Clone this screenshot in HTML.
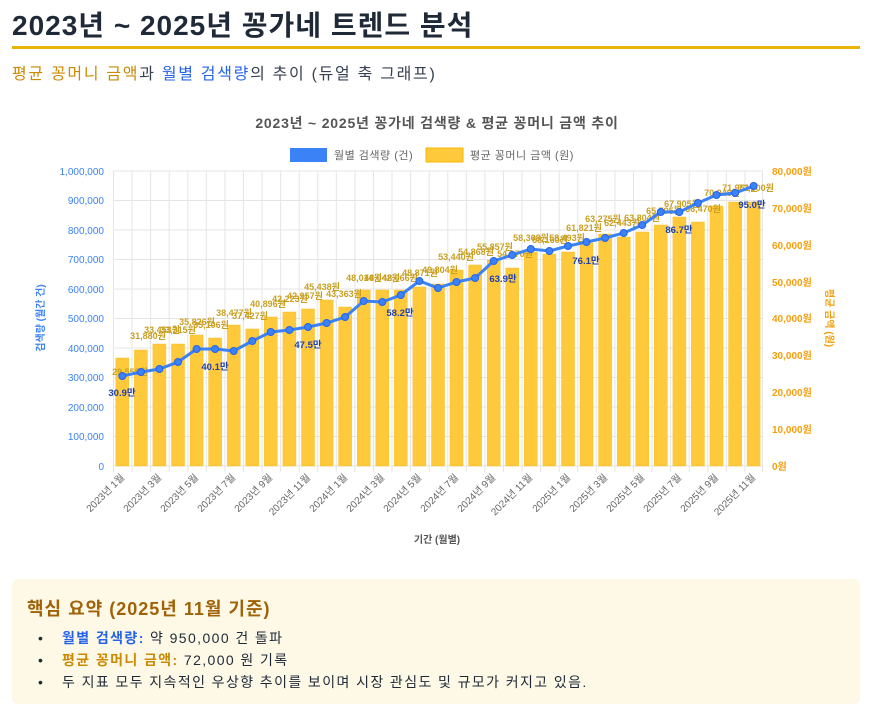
<!DOCTYPE html>
<html><head><meta charset="utf-8"><style>
body{margin:0;width:874px;height:713px;background:#fff;font-family:"Liberation Sans","Noto Sans CJK KR",sans-serif;position:relative;overflow:hidden}
.a{position:absolute;white-space:nowrap}
</style></head><body>
<div class="a" style="left:12px;top:4px;font-size:28px;font-weight:bold;color:#1f2937;letter-spacing:1px">2023년 ~ 2025년 꽁가네 트렌드 분석</div>
<div class="a" style="left:12px;top:46px;width:848px;height:3px;background:#eab308"></div>
<div class="a" style="left:12px;top:60px;font-size:16px;color:#374151;letter-spacing:1.7px"><span style="color:#ca8a04">평균 꽁머니 금액</span>과 <span style="color:#2563eb">월별 검색량</span>의 추이 (듀얼 축 그래프)</div>
<div class="a" style="left:12px;top:579px;width:848px;height:125px;background:#fdf9e6;border-radius:6px"></div>
<div class="a" style="left:27px;top:595px;font-size:18px;font-weight:bold;color:#a16207;letter-spacing:1px">핵심 요약 (2025년 11월 기준)</div>
<div class="a" style="left:38px;top:627px;font-size:14px;color:#1f2937;line-height:22px">
<div><span style="display:inline-block;width:24px">•</span><span style="letter-spacing:1.4px"><b style="color:#2563eb">월별 검색량:</b> 약 950,000 건 돌파</span></div>
<div><span style="display:inline-block;width:24px">•</span><span style="letter-spacing:1.4px"><b style="color:#ca8a04">평균 꽁머니 금액:</b> 72,000 원 기록</span></div>
<div><span style="display:inline-block;width:24px">•</span><span style="letter-spacing:1.4px">두 지표 모두 지속적인 우상향 추이를 보이며 시장 관심도 및 규모가 커지고 있음.</span></div></div>
<svg class="a" style="left:0;top:0" width="874" height="570" font-family="Liberation Sans, Noto Sans CJK KR, sans-serif">
<text x="437" y="128" text-anchor="middle" font-size="14" font-weight="bold" fill="#555" letter-spacing="0.8">2023년 ~ 2025년 꽁가네 검색량 &amp; 평균 꽁머니 금액 추이</text>
<rect x="290" y="148" width="37" height="14" fill="#3b82f6"/><text x="334" y="159" font-size="11" fill="#666" letter-spacing="0.5">월별 검색량 (건)</text>
<rect x="426" y="148" width="37" height="14" fill="#ffc93c" stroke="#f5b800"/><text x="470" y="159" font-size="11" fill="#666" letter-spacing="0.5">평균 꽁머니 금액 (원)</text>
<g stroke="#e5e5e5" stroke-width="1">
<path d="M113 171H763M113 200.5H763M113 230H763M113 259.5H763M113 289H763M113 318.5H763M113 348H763M113 377.5H763M113 407H763M113 436.5H763M113 466H763"/>
<path d="M113.5 171V472M132 171V472M150.6 171V472M169.2 171V472M187.8 171V472M206.3 171V472M224.9 171V472M243.5 171V472M262 171V472M280.6 171V472M299.2 171V472M317.8 171V472M336.3 171V472M354.9 171V472M373.5 171V472M392 171V472M410.6 171V472M429.2 171V472M447.8 171V472M466.3 171V472M484.9 171V472M503.5 171V472M522 171V472M540.6 171V472M559.2 171V472M577.8 171V472M596.3 171V472M614.9 171V472M633.5 171V472M652 171V472M670.6 171V472M689.2 171V472M707.8 171V472M726.3 171V472M744.9 171V472M762.5 171V472"/>
</g>
<g font-size="10" fill="#3b82f6" text-anchor="end">
<text x="104" y="175">1,000,000</text><text x="104" y="204">900,000</text><text x="104" y="234">800,000</text><text x="104" y="263">700,000</text><text x="104" y="293">600,000</text><text x="104" y="322">500,000</text><text x="104" y="352">400,000</text><text x="104" y="381">300,000</text><text x="104" y="411">200,000</text><text x="104" y="440">100,000</text><text x="104" y="470">0</text></g>
<g font-size="10" fill="#f59e0b" font-weight="bold">
<text x="772" y="175">80,000원</text><text x="772" y="212">70,000원</text><text x="772" y="249">60,000원</text><text x="772" y="286">50,000원</text><text x="772" y="322">40,000원</text><text x="772" y="359">30,000원</text><text x="772" y="396">20,000원</text><text x="772" y="433">10,000원</text><text x="772" y="470">0원</text></g>
<text transform="translate(44,318) rotate(-90)" text-anchor="middle" font-size="10" font-weight="bold" fill="#3b82f6">검색량 (월간 건)</text>
<text transform="translate(826,318) rotate(90)" text-anchor="middle" font-size="10" font-weight="bold" fill="#f59e0b">평균 금액 (원)</text>
<g fill="#ffc93c" stroke="#fbbf24" stroke-width="0.5">
<rect x="115.8" y="358" width="13" height="108"/><rect x="134.4" y="350" width="13" height="116"/><rect x="152.9" y="344" width="13" height="122"/><rect x="171.5" y="344" width="13" height="122"/><rect x="190.1" y="335" width="13" height="131"/><rect x="208.6" y="338" width="13" height="128"/><rect x="227.2" y="325" width="13" height="141"/><rect x="245.8" y="329" width="13" height="137"/><rect x="264.3" y="317" width="13" height="149"/><rect x="282.9" y="312" width="13" height="154"/><rect x="301.5" y="309" width="13" height="157"/><rect x="320.1" y="300" width="13" height="166"/><rect x="338.6" y="307" width="13" height="159"/><rect x="357.2" y="290" width="13" height="176"/><rect x="375.8" y="290" width="13" height="176"/><rect x="394.3" y="290" width="13" height="176"/><rect x="412.9" y="287" width="13" height="179"/><rect x="431.5" y="284" width="13" height="182"/><rect x="450" y="270" width="13" height="196"/><rect x="468.6" y="265" width="13" height="201"/><rect x="487.2" y="260" width="13" height="206"/><rect x="505.7" y="268" width="13" height="198"/><rect x="524.3" y="252" width="13" height="214"/><rect x="542.9" y="254" width="13" height="212"/><rect x="561.5" y="252" width="13" height="214"/><rect x="580" y="243" width="13" height="223"/><rect x="598.6" y="234" width="13" height="232"/><rect x="617.2" y="237" width="13" height="229"/><rect x="635.7" y="232" width="13" height="234"/><rect x="654.3" y="225" width="13" height="241"/><rect x="672.9" y="217" width="13" height="249"/><rect x="691.4" y="222" width="13" height="244"/><rect x="710" y="206" width="13" height="260"/><rect x="728.6" y="202" width="13" height="264"/><rect x="747.1" y="202" width="13" height="264"/>
</g>
<g font-size="9" font-weight="bold" fill="#c9a022" text-anchor="middle">
<text x="130" y="375">29,558원</text><text x="148" y="339">31,880원</text><text x="162" y="333">33,453원</text><text x="178" y="333">33,315원</text><text x="197" y="325">35,826원</text><text x="211" y="328">35,106원</text><text x="234" y="316">38,477원</text><text x="250" y="319">37,427원</text><text x="268" y="307">40,896원</text><text x="290" y="302">42,223원</text><text x="305" y="299">42,957원</text><text x="322" y="290">45,438원</text><text x="344" y="297">43,363원</text><text x="364" y="281">48,014원</text><text x="382" y="281">48,042원</text><text x="400" y="281">48,066원</text><text x="420" y="276">48,871원</text><text x="440" y="273">49,804원</text><text x="456" y="260">53,440원</text><text x="476" y="255">54,868원</text><text x="495" y="250">55,857원</text><text x="515" y="257">54,070원</text><text x="531" y="241">58,308원</text><text x="550" y="243">58,160원</text><text x="567" y="241">58,493원</text><text x="584" y="231">61,821원</text><text x="603" y="222">63,275원</text><text x="622" y="226">62,443원</text><text x="642" y="221">63,804원</text><text x="664" y="214">65,795원</text><text x="682" y="207">67,905원</text><text x="703" y="212">66,470원</text><text x="722" y="196">70,948원</text><text x="740" y="191">71,951원</text><text x="756" y="191">72,000원</text>
</g>
<polyline fill="none" stroke="#3b82f6" stroke-width="3" points="122.3,376 140.9,372 159.4,369 178,362 196.6,349 215.1,349 233.7,351 252.3,341 270.8,332 289.4,330 308,327 326.6,323 345.1,317 363.7,301 382.3,302 400.8,295 419.4,281 438,288 456.5,282 475.1,278 493.7,261 512.2,255 530.8,249 549.4,251 568,246 586.5,242 605.1,238 623.7,233 642.2,225 660.8,212 679.4,212 697.9,203 716.5,195 735.1,193 753.6,186"/>
<g fill="#3b82f6" stroke="#2563eb" stroke-width="1">
<circle cx="122.3" cy="376" r="3.5"/><circle cx="140.9" cy="372" r="3.5"/><circle cx="159.4" cy="369" r="3.5"/><circle cx="178" cy="362" r="3.5"/><circle cx="196.6" cy="349" r="3.5"/><circle cx="215.1" cy="349" r="3.5"/><circle cx="233.7" cy="351" r="3.5"/><circle cx="252.3" cy="341" r="3.5"/><circle cx="270.8" cy="332" r="3.5"/><circle cx="289.4" cy="330" r="3.5"/><circle cx="308" cy="327" r="3.5"/><circle cx="326.6" cy="323" r="3.5"/><circle cx="345.1" cy="317" r="3.5"/><circle cx="363.7" cy="301" r="3.5"/><circle cx="382.3" cy="302" r="3.5"/><circle cx="400.8" cy="295" r="3.5"/><circle cx="419.4" cy="281" r="3.5"/><circle cx="438" cy="288" r="3.5"/><circle cx="456.5" cy="282" r="3.5"/><circle cx="475.1" cy="278" r="3.5"/><circle cx="493.7" cy="261" r="3.5"/><circle cx="512.2" cy="255" r="3.5"/><circle cx="530.8" cy="249" r="3.5"/><circle cx="549.4" cy="251" r="3.5"/><circle cx="568" cy="246" r="3.5"/><circle cx="586.5" cy="242" r="3.5"/><circle cx="605.1" cy="238" r="3.5"/><circle cx="623.7" cy="233" r="3.5"/><circle cx="642.2" cy="225" r="3.5"/><circle cx="660.8" cy="212" r="3.5"/><circle cx="679.4" cy="212" r="3.5"/><circle cx="697.9" cy="203" r="3.5"/><circle cx="716.5" cy="195" r="3.5"/><circle cx="735.1" cy="193" r="3.5"/><circle cx="753.6" cy="186" r="3.5"/>
</g>
<g font-size="9.5" font-weight="bold" fill="#1e40af" text-anchor="middle">
<text x="122" y="396">30.9만</text><text x="215" y="370">40.1만</text><text x="308" y="348">47.5만</text><text x="400" y="316">58.2만</text><text x="503" y="282">63.9만</text><text x="586" y="264">76.1만</text><text x="679" y="233">86.7만</text><text x="752" y="208">95.0만</text>
</g>
<g font-size="10" fill="#666" text-anchor="end">
<text transform="translate(125,478) rotate(-45)">2023년 1월</text><text transform="translate(162,478) rotate(-45)">2023년 3월</text><text transform="translate(199,478) rotate(-45)">2023년 5월</text><text transform="translate(236,478) rotate(-45)">2023년 7월</text><text transform="translate(273,478) rotate(-45)">2023년 9월</text><text transform="translate(311,478) rotate(-45)">2023년 11월</text><text transform="translate(348,478) rotate(-45)">2024년 1월</text><text transform="translate(385,478) rotate(-45)">2024년 3월</text><text transform="translate(422,478) rotate(-45)">2024년 5월</text><text transform="translate(459,478) rotate(-45)">2024년 7월</text><text transform="translate(496,478) rotate(-45)">2024년 9월</text><text transform="translate(533,478) rotate(-45)">2024년 11월</text><text transform="translate(571,478) rotate(-45)">2025년 1월</text><text transform="translate(608,478) rotate(-45)">2025년 3월</text><text transform="translate(645,478) rotate(-45)">2025년 5월</text><text transform="translate(682,478) rotate(-45)">2025년 7월</text><text transform="translate(719,478) rotate(-45)">2025년 9월</text><text transform="translate(756,478) rotate(-45)">2025년 11월</text>
</g>
<text x="437" y="543" text-anchor="middle" font-size="10" font-weight="bold" fill="#555">기간 (월별)</text>
</svg>
</body></html>
